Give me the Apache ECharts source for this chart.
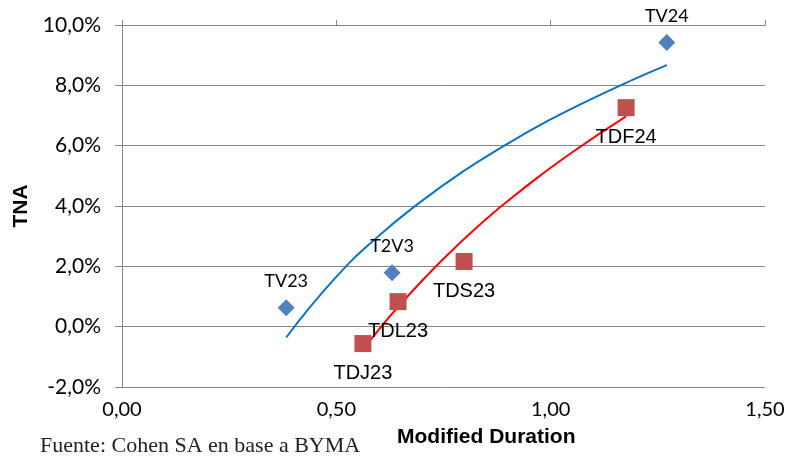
<!DOCTYPE html>
<html>
<head>
<meta charset="utf-8">
<script src="https://cdn.jsdelivr.net/npm/echarts@6/dist/echarts.min.js"></script>
<style>
  html, body { margin: 0; padding: 0; background: #fff; }
  #chart { width: 790px; height: 458px; }
</style>
</head>
<body>
<div id="chart"></div>
<script>
// bonos CER / dollar linked (azul) y duales (rojo)
const blueNames = ['TV23', 'T2V3', 'TV24']
const blueX = [0.383, 0.630, 1.271]
const blueY = [0.63, 1.79, 9.42]

const redNames = ['TDJ23', 'TDL23', 'TDS23', 'TDF24']
const redX = [0.562, 0.644, 0.798, 1.176]
const redY = [-0.56, 0.83, 2.16, 7.26]

// curvas de tendencia
const blueTrendX = [0.383, 0.496, 0.595, 0.695, 0.794, 0.893, 0.992, 1.091, 1.191, 1.271]
const blueTrendY = [-0.36, 1.59, 2.96, 4.12, 5.13, 6.01, 6.81, 7.52, 8.18, 8.67]
const redTrendX = [0.562, 0.595, 0.645, 0.744, 0.843, 0.943, 1.042, 1.176]
const redTrendY = [-0.76, -0.17, 0.67, 2.17, 3.49, 4.65, 5.70, 6.97]

const xTicks = [0, 0.5, 1.0, 1.5]
const yTicks = [-2, 0, 2, 4, 6, 8, 10]

const gray = '#868686'
const zip = (xs, ys) => xs.map((x, i) => [x, ys[i]])

const chart = echarts.init(document.getElementById('chart'))

const option = {
  animation: false,
  grid: { left: 122, right: 25, top: 25, bottom: 71 },
  xAxis: [
    {
      type: 'value',
      min: xTicks[0],
      max: xTicks[xTicks.length - 1],
      interval: 0.5,
      axisLine: { show: false },
      axisTick: { show: false },
      splitLine: { show: false },
      axisLabel: {
        margin: 13,
        fontFamily: 'Lato',
        fontSize: 20,
        color: '#000',
        formatter: v => v.toFixed(2).replace('.', ',')
      }
    },
    {
      type: 'value',
      min: xTicks[0],
      max: xTicks[xTicks.length - 1],
      interval: 0.5,
      axisLine: { show: true, onZero: true, lineStyle: { color: gray, width: 1 } },
      axisTick: { show: true, length: 5, lineStyle: { color: gray } },
      axisLabel: { show: false },
      splitLine: { show: false }
    }
  ],
  yAxis: {
    type: 'value',
    min: yTicks[0],
    max: yTicks[yTicks.length - 1],
    interval: 2,
    name: 'TNA',
    nameLocation: 'middle',
    nameGap: 89,
    nameTextStyle: { fontFamily: 'Liberation Sans', fontWeight: 'bold', fontSize: 21, color: '#000' },
    axisLine: { show: true, lineStyle: { color: gray, width: 1 } },
    axisTick: { show: true, length: 7, lineStyle: { color: gray } },
    splitLine: { show: true, lineStyle: { color: gray, width: 1 } },
    axisLabel: {
      margin: 21,
      fontFamily: 'Lato',
      fontSize: 21,
      color: '#000',
      formatter: v => v.toFixed(1).replace('.', ',') + '%'
    }
  },
  graphic: [
    {
      type: 'text',
      left: 397,
      top: 427,
      style: {
        text: 'Modified Duration',
        font: 'bold 21px "Liberation Sans"',
        fill: '#000'
      }
    },
    {
      type: 'text',
      left: 40,
      top: 435,
      style: {
        text: 'Fuente: Cohen SA en base a BYMA',
        font: '22px "Liberation Serif"',
        fill: '#222'
      }
    }
  ],
  series: [
    {
      type: 'line',
      data: zip(blueTrendX, blueTrendY),
      smooth: true,
      showSymbol: false,
      lineStyle: { color: '#0A72C4', width: 2 },
      z: 2
    },
    {
      type: 'line',
      data: zip(redTrendX, redTrendY),
      smooth: true,
      showSymbol: false,
      lineStyle: { color: '#FF0000', width: 2 },
      z: 2
    },
    {
      type: 'scatter',
      data: blueNames.map((n, i) => ({ name: n, value: [blueX[i], blueY[i]] })),
      symbol: 'diamond',
      symbolSize: 17,
      itemStyle: { color: '#4F81BD', opacity: 1 },
      label: {
        show: true,
        position: 'top',
        distance: 9,
        formatter: p => p.name,
        fontFamily: 'Lato',
        fontSize: 18,
        color: '#000'
      },
      z: 3
    },
    {
      type: 'scatter',
      data: redNames.map((n, i) => ({ name: n, value: [redX[i], redY[i]] })),
      symbol: 'rect',
      symbolSize: 17,
      itemStyle: { color: '#C0504D', opacity: 1 },
      label: {
        show: true,
        position: 'bottom',
        distance: 11,
        formatter: p => p.name,
        fontFamily: 'Liberation Sans',
        fontSize: 20,
        color: '#000'
      },
      z: 3
    }
  ]
}

chart.setOption(option)
</script>
</body>
</html>
